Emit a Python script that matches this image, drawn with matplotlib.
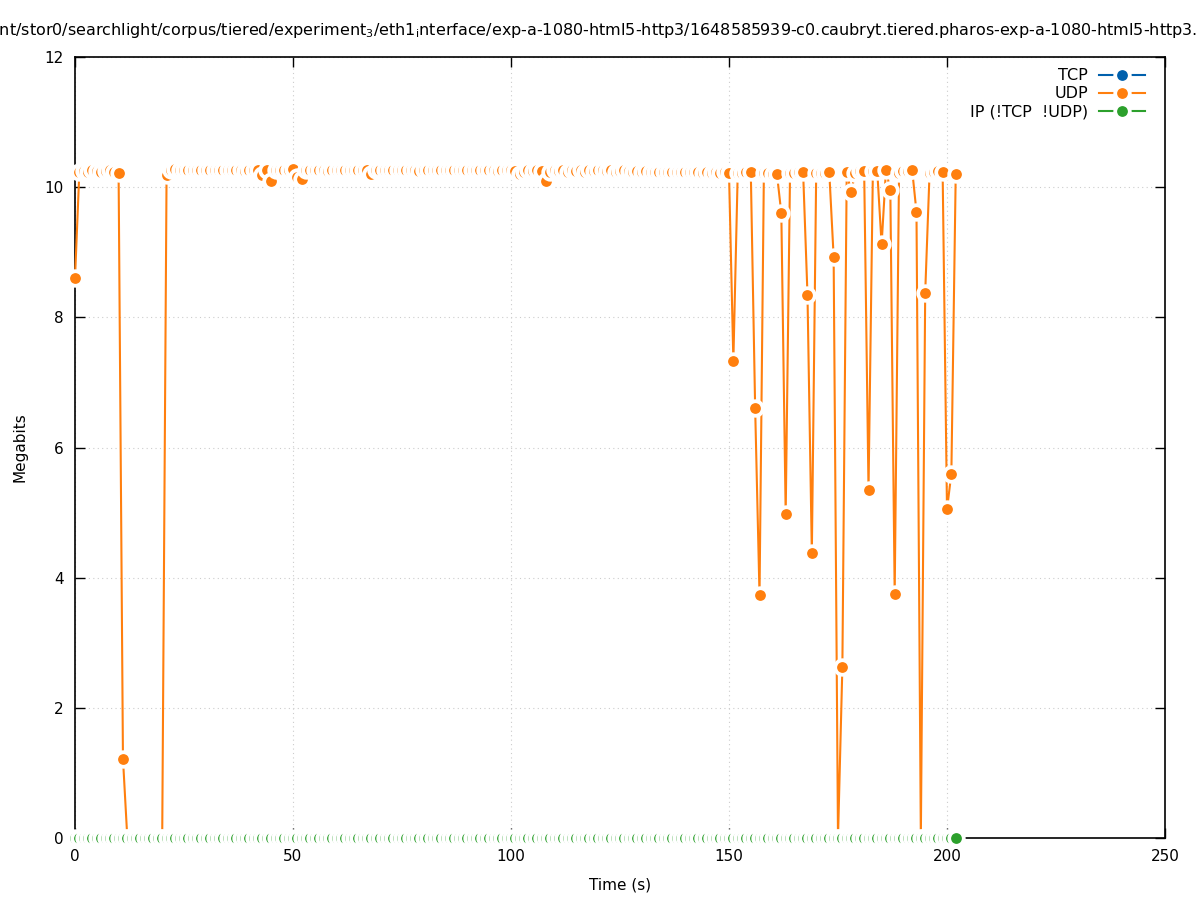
import numpy as np
import matplotlib
matplotlib.use('Agg')
import matplotlib.pyplot as plt
from matplotlib.lines import Line2D

# time axis (s), one sample per second
time_s = list(range(0, 203))

# UDP throughput (Megabits) per second
udp_mb = [
    8.60, 10.24, 10.25, 10.24, 10.26, 10.25, 10.24, 10.25, 10.26, 10.24,   # 0-9
    10.22, 1.22, 0.0, 0.0, 0.0, 0.0, 0.0, 0.0, 0.0, 0.0,                   # 10-19
    0.0, 10.18, 10.27, 10.28, 10.27, 10.26, 10.27, 10.27, 10.26, 10.27,    # 20-29
    10.27, 10.26, 10.27, 10.27, 10.26, 10.27, 10.26, 10.27, 10.26, 10.25,  # 30-39
    10.26, 10.27, 10.26, 10.18, 10.26, 10.10, 10.26, 10.27, 10.26, 10.27,  # 40-49
    10.28, 10.15, 10.12, 10.26, 10.27, 10.26, 10.27, 10.26, 10.25, 10.26,  # 50-59
    10.27, 10.26, 10.27, 10.26, 10.27, 10.26, 10.27, 10.26, 10.20, 10.26,  # 60-69
    10.27, 10.26, 10.27, 10.26, 10.27, 10.27, 10.26, 10.27, 10.26, 10.25,  # 70-79
    10.26, 10.27, 10.26, 10.27, 10.26, 10.27, 10.26, 10.27, 10.26, 10.27,  # 80-89
    10.26, 10.27, 10.26, 10.26, 10.27, 10.26, 10.26, 10.25, 10.26, 10.27,  # 90-99
    10.26, 10.25, 10.20, 10.24, 10.26, 10.25, 10.26, 10.25, 10.09, 10.24,  # 100-109
    10.26, 10.25, 10.27, 10.24, 10.26, 10.25, 10.26, 10.24, 10.26, 10.25,  # 110-119
    10.26, 10.27, 10.25, 10.26, 10.24, 10.25, 10.26, 10.25, 10.24, 10.25,  # 120-129
    10.24, 10.25, 10.24, 10.23, 10.24, 10.23, 10.24, 10.23, 10.24, 10.23,  # 130-139
    10.24, 10.23, 10.24, 10.23, 10.22, 10.23, 10.22, 10.23, 10.22, 10.23,  # 140-149
    10.22, 7.33, 10.22, 10.22, 10.23, 10.23, 6.60, 3.73, 10.22, 10.22,     # 150-159
    10.20, 10.20, 9.60, 4.98, 10.22, 10.22, 10.23, 10.23, 8.35, 4.38,      # 160-169
    10.22, 10.22, 10.22, 10.23, 8.93, 0.0, 2.62, 10.23, 9.93, 10.22,       # 170-179
    10.25, 10.25, 5.35, 10.25, 10.25, 9.12, 10.26, 9.96, 3.75, 10.22,      # 180-189
    10.25, 10.25, 10.27, 9.62, 0.0, 8.38, 10.22, 10.24, 10.25, 10.23,      # 190-199
    5.05, 5.60, 10.20,                                                     # 200-202
]

# TCP: no traffic captured
tcp_time = []
tcp_mb = []

# IP (neither TCP nor UDP)
ip_mb = [0.0] * len(time_s)

series_labels = ['TCP', 'UDP', 'IP (!TCP  !UDP)']
series_colors = ['#0060ad', '#ff7f0e', '#2ca02c']

title = ('/mnt/stor0/searchlight/corpus/tiered/experiment$_3$/eth1$_\\mathrm{i}$nterface/'
         'exp-a-1080-html5-http3/1648585939-c0.caubryt.tiered.pharos-exp-a-1080-html5-http3.pcap')

fig = plt.figure(figsize=(11.97, 9), dpi=100)
ax = fig.add_axes([75 / 1197, 62 / 900, 1090 / 1197, 781 / 900])

style = dict(lw=1.5, marker='o', ms=10.5, mec='white', mew=2.7)
ax.plot(tcp_time, tcp_mb, color=series_colors[0], mfc=series_colors[0],
        clip_on=False, zorder=3, **style)
ax.plot(time_s, udp_mb, color=series_colors[1], mfc=series_colors[1],
        clip_on=False, zorder=3, **style)
ax.plot(time_s, ip_mb, color=series_colors[2], mfc=series_colors[2],
        clip_on=False, zorder=3, **style)

ax.set_xlim(0, 250)
ax.set_ylim(0, 12)
ax.set_xticks(range(0, 251, 50))
ax.set_yticks(range(0, 13, 2))
ax.tick_params(direction='in', length=7, width=1, top=True, right=True,
               labelsize=11, pad=8)
ax.grid(True, color='#cccccc', linestyle=(0, (1, 3)), linewidth=0.8)
for s in ax.spines.values():
    s.set_linewidth(1.2)

ax.set_xlabel('Time (s)', fontsize=11, labelpad=10)
ax.set_ylabel('Megabits', fontsize=11, labelpad=12)

handles = [Line2D([], [], color=c, mfc=c, **style) for c in series_colors]
leg = ax.legend(handles, series_labels, loc='upper right', frameon=False,
                bbox_to_anchor=(1 - 9 / 1090, 1.0),
                markerfirst=False, fontsize=11.5, handlelength=2.9,
                handletextpad=0.65, labelspacing=0.2, borderaxespad=0.3)

fig.text(608 / 1197, 1 - 30 / 900, title, ha='center', va='center', fontsize=11.5)

fig.savefig('out.png', dpi=100)
